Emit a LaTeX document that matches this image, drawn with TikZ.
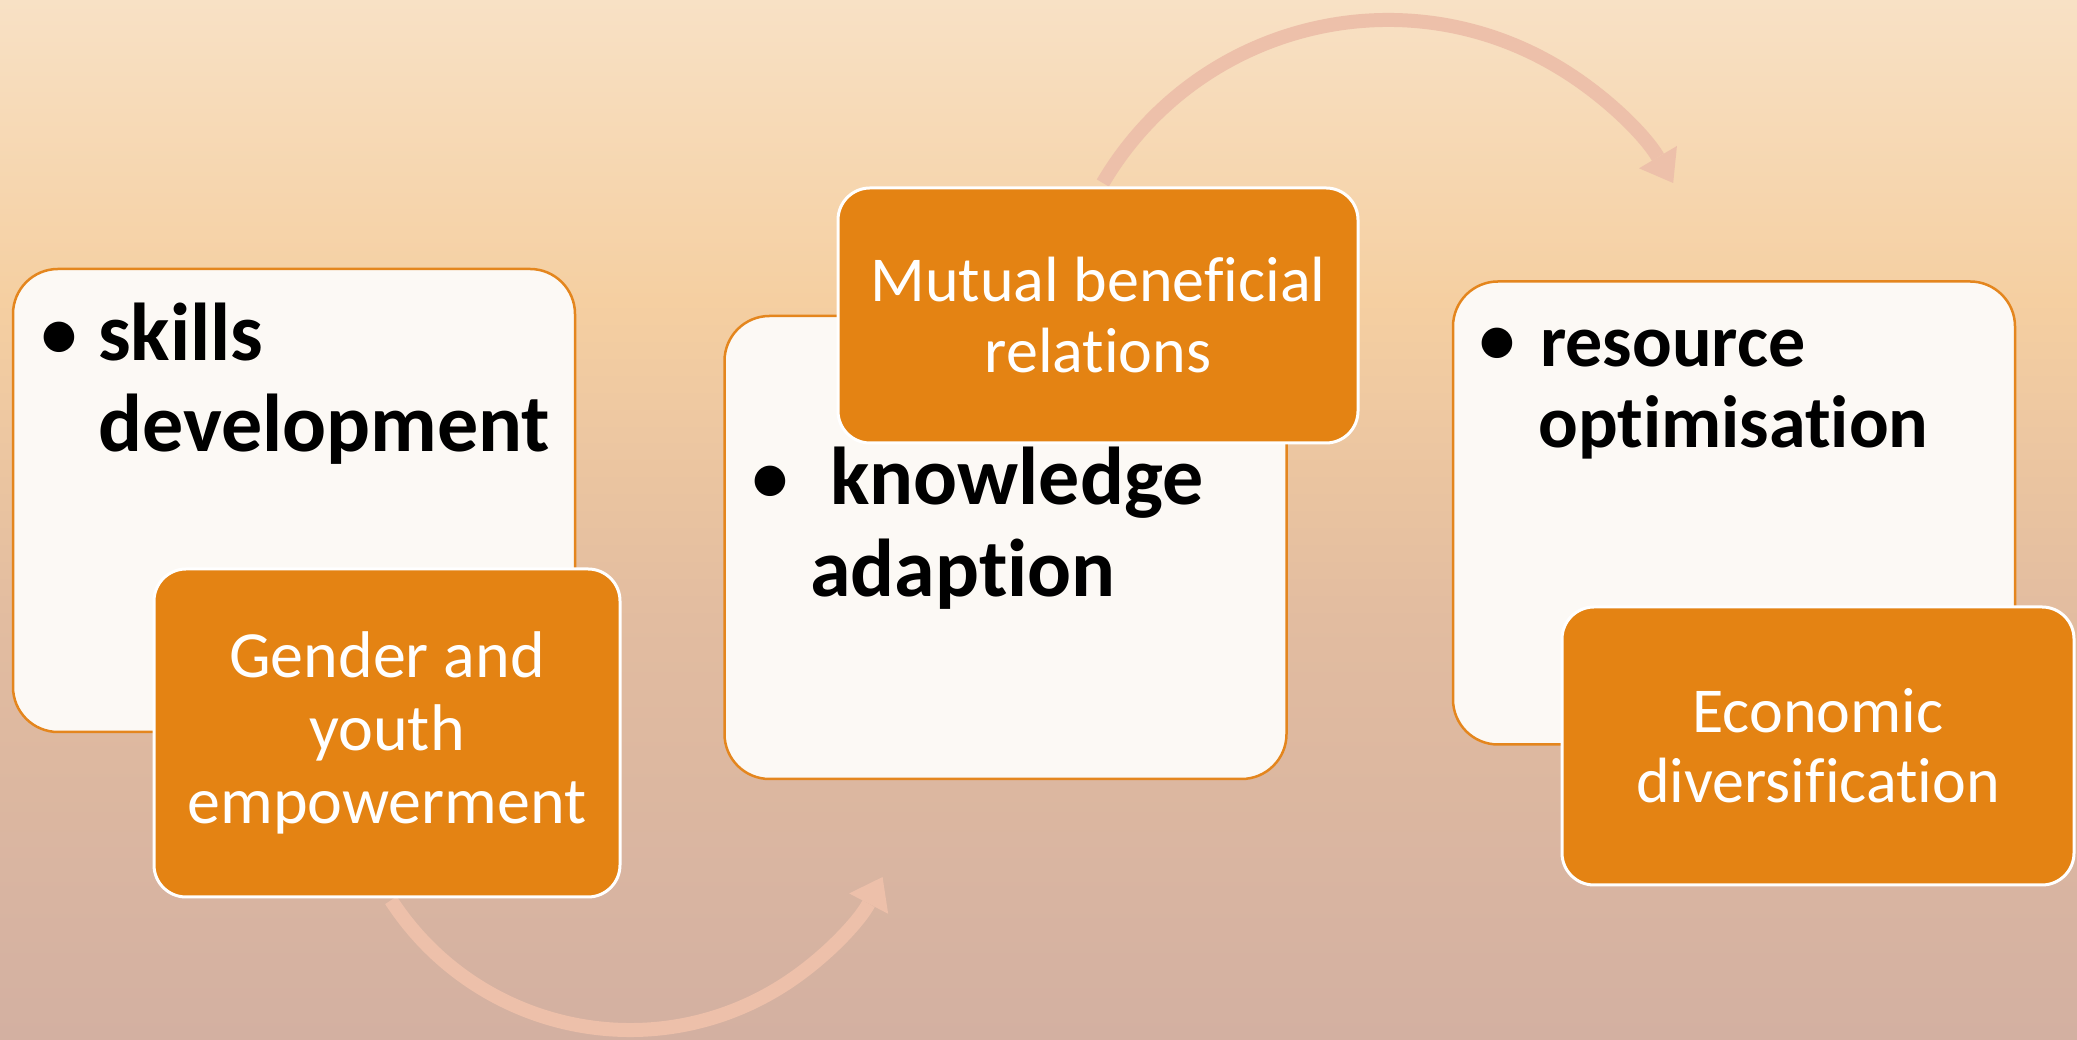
\documentclass[tikz,border=0pt]{standalone}
\usepackage{fontspec}
\setmainfont{Carlito}[Ligatures={NoCommon}]
\usetikzlibrary{arrows.meta}
\definecolor{bgA}{RGB}{248,225,197}
\definecolor{bgB}{RGB}{245,207,161}
\definecolor{bgC}{RGB}{226,188,160}
\definecolor{bgD}{RGB}{211,176,161}
\definecolor{boxfill}{RGB}{252,249,245}
\definecolor{boxline}{RGB}{228,134,30}
\definecolor{orangefill}{RGB}{228,131,19}
\definecolor{arrowcol}{RGB}{237,192,170}
\newcommand{\blt}{\raisebox{3pt}{\fontsize{72}{72}\selectfont\textbullet}}
\tikzset{
  whitebox/.style={draw=boxline, line width=2.5pt, fill=boxfill, rounded corners=45pt,
    minimum width=562pt, minimum height=463pt, inner sep=0pt},
  orangebox/.style={draw=white, line width=3pt, fill=orangefill, rounded corners=32pt, inner sep=0pt},
  boldtext/.style={anchor=base west, inner sep=0pt, text=black,
    font=\fontsize{82}{91}\selectfont\bfseries},
  boldsmall/.style={anchor=base west, inner sep=0pt, text=black,
    font=\fontsize{74}{82}\selectfont\bfseries},
  whitetext/.style={align=center, inner sep=0pt, text=white,
    font=\fontsize{64}{71}\selectfont},
  flow/.style={draw=arrowcol, line width=14pt,
    -{Triangle[length=30pt,width=44pt,line width=0pt]}},
}
\begin{document}
\begin{tikzpicture}[x=1pt,y=1pt]
\useasboundingbox (0,0) rectangle (2077,1040);
% background gradient
\shade[top color=bgA, bottom color=bgB] (0,739) rectangle (2077,1040);
\shade[top color=bgB, bottom color=bgC] (0,419) rectangle (2077,741);
\shade[top color=bgC, bottom color=bgD] (0,0) rectangle (2077,421);
% arc centres and start points
\coordinate (c1) at (630,295);
\coordinate (c2) at (1388,689);
\coordinate (s1) at ([shift={(213:285pt)}]c1);
\coordinate (s2) at ([shift={(149.5:331pt)}]c2);
% connectors
\draw[flow] (s1) arc[start angle=213, end angle=332.4, radius=285pt];
\draw[flow] (s2) arc[start angle=149.5, end angle=30.5, radius=331pt];
% boxes
\node[whitebox] (b1) at (294,539.5) {};
\node[orangebox, minimum width=466pt, minimum height=328pt] (o1) at (387,307) {};
\node[whitebox] (b2) at (1005.5,492.5) {};
\node[orangebox, minimum width=520pt, minimum height=255pt] (o2) at (1098,724.5) {};
\node[whitebox] (b3) at (1734,527) {};
\node[orangebox, minimum width=512pt, minimum height=278pt] (o3) at (1818,294) {};
% bold bullet texts
\node[boldtext] (t1a) at (41,679) {\makebox[57pt][l]{\blt}skills};
\node[boldtext] (t1b) at (98,588) {development};
\node[boldtext] (t2a) at (752,535) {\makebox[78pt][l]{\blt}knowledge};
\node[boldtext] (t2b) at (810,443) {adaption};
\node[boldsmall] (t3a) at (1479,673) {\makebox[61pt][l]{\blt}resource};
\node[boldsmall] (t3b) at (1538,592) {optimisation};
% white texts
\node[whitetext, font=\fontsize{66}{73}\selectfont] (w1) at (o1) {Gender and\\youth\\empowerment};
\node[whitetext] (w2) at (o2) {Mutual beneficial\\relations};
\node[whitetext, font=\fontsize{64}{70}\selectfont] (w3) at (o3) {Economic\\diversification};
\end{tikzpicture}
\end{document}
